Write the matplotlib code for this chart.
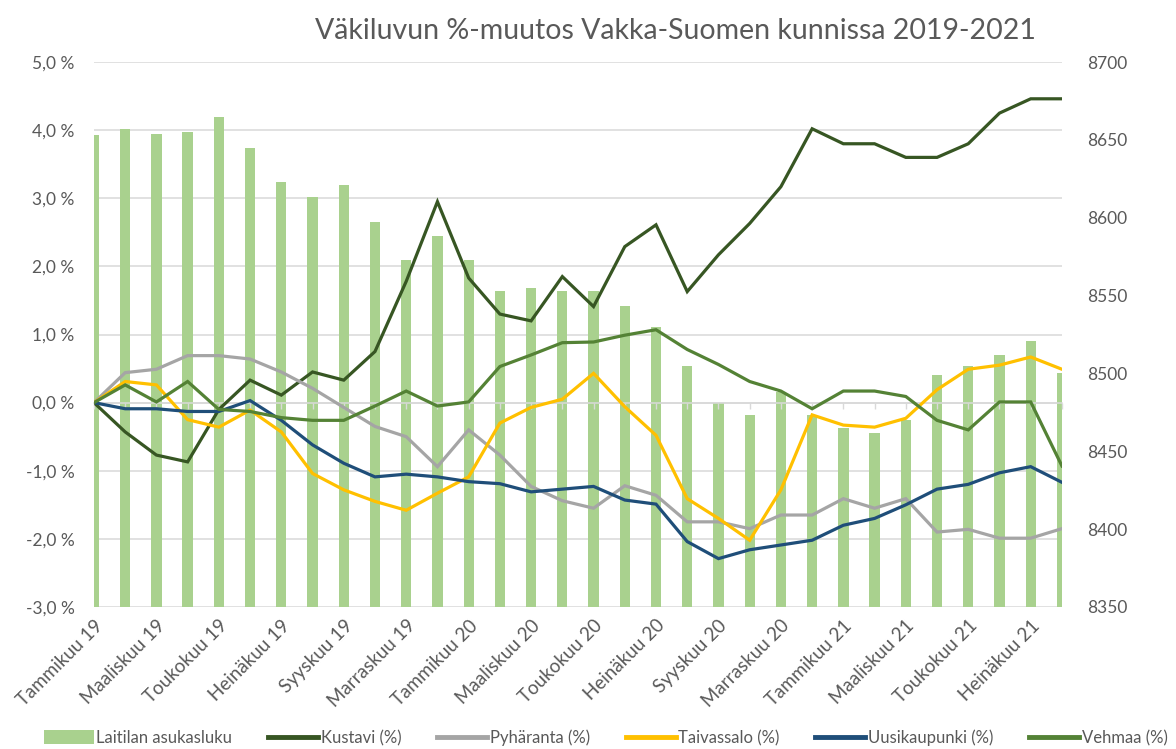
import numpy as np
import matplotlib
matplotlib.use("Agg")
from matplotlib import pyplot as plt
from matplotlib.patches import Patch
from matplotlib.lines import Line2D

plt.rcParams["font.family"] = ["Lato", "DejaVu Sans"]

# ── Data ──────────────────────────────────────────────────────────────────────
months = ["Tammikuu", "Helmikuu", "Maaliskuu", "Huhtikuu", "Toukokuu", "Kesäkuu",
          "Heinäkuu", "Elokuu", "Syyskuu", "Lokakuu", "Marraskuu", "Joulukuu"]
categories = [f"{m} {y}" for y in ("19", "20", "21") for m in months][:32]

laitila = [8653, 8657, 8654, 8655, 8665, 8645, 8623, 8613, 8621, 8597, 8573, 8588,
           8573, 8553, 8555, 8553, 8553, 8543, 8530, 8505, 8481, 8473, 8488, 8473,
           8465, 8462, 8470, 8499, 8505, 8512, 8521, 8500]

kustavi = [0.00, -0.43, -0.77, -0.87, -0.10, 0.33, 0.11, 0.45, 0.33, 0.75, 1.78, 2.95,
           1.83, 1.30, 1.20, 1.85, 1.41, 2.29, 2.61, 1.63, 2.17, 2.63, 3.17, 4.02,
           3.80, 3.80, 3.60, 3.60, 3.80, 4.25, 4.46, 4.46]
pyharanta = [0.00, 0.44, 0.49, 0.69, 0.69, 0.64, 0.45, 0.21, -0.07, -0.35, -0.50, -0.94,
             -0.40, -0.77, -1.23, -1.44, -1.55, -1.22, -1.36, -1.75, -1.75, -1.85, -1.65, -1.65,
             -1.41, -1.55, -1.41, -1.90, -1.86, -1.99, -1.99, -1.85]
taivassalo = [0.00, 0.31, 0.26, -0.25, -0.36, -0.11, -0.43, -1.04, -1.28, -1.45, -1.58, -1.33,
              -1.09, -0.30, -0.07, 0.05, 0.43, -0.06, -0.48, -1.41, -1.70, -2.02, -1.28, -0.18,
              -0.33, -0.36, -0.23, 0.19, 0.49, 0.55, 0.67, 0.49]
uusikaupunki = [0.00, -0.09, -0.09, -0.13, -0.13, 0.03, -0.26, -0.62, -0.89, -1.09, -1.05, -1.09,
                -1.16, -1.19, -1.31, -1.27, -1.23, -1.43, -1.49, -2.04, -2.29, -2.16, -2.09, -2.02,
                -1.80, -1.70, -1.50, -1.27, -1.20, -1.03, -0.94, -1.17]
vehmaa = [0.00, 0.26, 0.01, 0.31, -0.10, -0.13, -0.22, -0.26, -0.26, -0.05, 0.17, -0.05,
          0.01, 0.53, 0.70, 0.88, 0.89, 0.99, 1.07, 0.78, 0.56, 0.31, 0.17, -0.09,
          0.17, 0.17, 0.09, -0.26, -0.40, 0.01, 0.01, -0.93]

series = [
    ("Kustavi (%)", kustavi, "#375623"),
    ("Pyhäranta (%)", pyharanta, "#A5A5A5"),
    ("Taivassalo (%)", taivassalo, "#FFC000"),
    ("Uusikaupunki (%)", uusikaupunki, "#1F4E79"),
    ("Vehmaa (%)", vehmaa, "#548235"),
]
bar_color = "#A9D18E"
text_color = "#595959"
grid_color = "#D9D9D9"

# ── Figure ────────────────────────────────────────────────────────────────────
fig = plt.figure(figsize=(11.76, 7.49), dpi=100)
ax = fig.add_axes([0.0799, 0.1896, 0.8231, 0.7276])
ax2 = ax.twinx()

x = np.arange(len(categories))

# bars on the secondary (right) axis, drawn behind the lines
ax2.bar(x, np.array(laitila) - 8350, bottom=8350, width=0.33, color=bar_color, zorder=1)
ax2.set_ylim(8350, 8700)
ax2.set_yticks(np.arange(8350, 8701, 50))
ax2.tick_params(axis="y", length=0, labelsize=12.5, colors=text_color, pad=18)

ax.set_zorder(ax2.get_zorder() + 1)
ax.patch.set_visible(False)

for name, vals, col in series:
    ax.plot(x, vals, color=col, lw=2.3, solid_joinstyle="miter", zorder=3)

ax.set_xlim(0, len(categories) - 1)
ax.set_ylim(-3, 5)
ax.set_yticks(np.arange(-3, 5.1, 1))
ax.set_yticklabels([f"{v:.1f} %".replace(".", ",") for v in np.arange(-3, 5.1, 1)])
ax.tick_params(axis="y", length=0, labelsize=12.5, colors=text_color, pad=14)

# gridlines belong to the left axis but sit behind bars
for v in np.arange(-3, 5.1, 1):
    ax2.axhline(8350 + (v + 3) * 350 / 8, color=grid_color, lw=1.1, zorder=0)

ax.set_xticks(x[::2])
ax.set_xticklabels(categories[::2], rotation=45, ha="right", rotation_mode="anchor")
ax.tick_params(axis="x", length=0, labelsize=13.5, colors=text_color, pad=7)

for a in (ax, ax2):
    for s in a.spines.values():
        s.set_visible(False)
ax2.tick_params(axis="x", length=0)

# horizontal axis line crossing at 0 % with small tick marks
sec = ax.secondary_xaxis(3 / 8)
sec.set_xticks(x)
sec.set_xticklabels([])
sec.tick_params(axis="x", length=4, color=grid_color, width=1.0)
sec.spines["bottom"].set_color(grid_color)
sec.spines["bottom"].set_linewidth(1.1)

fig.text(0.574, 0.958, "Väkiluvun %-muutos Vakka-Suomen kunnissa 2019-2021",
         ha="center", va="center", fontsize=20.5, color=text_color)

handles = [Patch(facecolor=bar_color, label="Laitilan asukasluku")]
handles += [Line2D([0], [0], color=c, lw=3.5, label=n) for n, _, c in series]
fig.legend(handles=handles, loc="center", bbox_to_anchor=(0.515, 0.015), ncol=6,
           frameon=False, fontsize=12, labelcolor=text_color, handlelength=3.0,
           handleheight=0.9, handletextpad=0.15, columnspacing=2.15)

fig.savefig("out.png", dpi=100)
